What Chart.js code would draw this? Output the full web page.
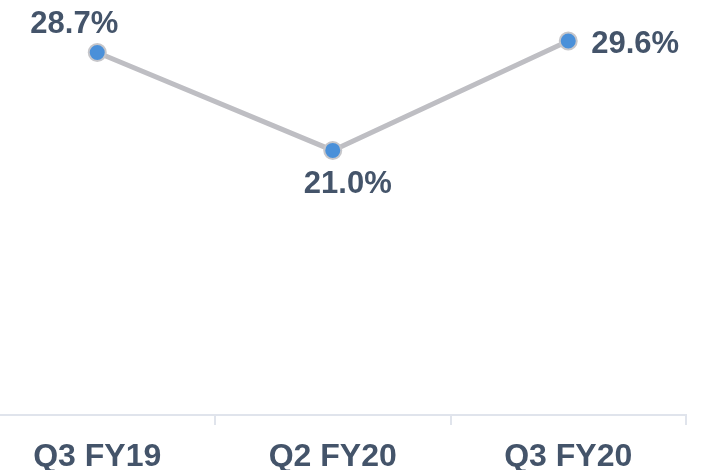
<!DOCTYPE html>
<html>
<head>
<meta charset="utf-8">
<script src="https://cdn.jsdelivr.net/npm/chart.js@4"></script>
<style>
  html, body { margin: 0; padding: 0; background: #fff; }
  /* the first category starts off the left edge and the labels sit near the bottom,
     so the canvas is a bit bigger than the window and clipped */
  #clip { width: 717px; height: 470px; overflow: hidden; position: relative; }
  #wrap { width: 748px; height: 491px; position: absolute; left: -31px; top: 0; }
</style>
</head>
<body>
<div id="clip"><div id="wrap"><canvas id="c"></canvas></div></div>
<script>
const quarters = ['Q3 FY19', 'Q2 FY20', 'Q3 FY20'];
const margins = [28.7, 21.0, 29.6];
// where each value label sits relative to its point
const labelSpots = ['upleft', 'below', 'right'];

const ink = '#44546a';

const valueLabels = {
  id: 'valueLabels',
  afterDatasetsDraw(chart) {
    const ctx = chart.ctx;
    const meta = chart.getDatasetMeta(0);
    ctx.save();
    ctx.font = 'bold 31px "Liberation Sans", Arial, sans-serif';
    ctx.fillStyle = ink;
    ctx.textBaseline = 'middle';
    meta.data.forEach((pt, i) => {
      const txt = margins[i].toFixed(1) + '%';
      let x = pt.x, y = pt.y;
      ctx.textAlign = 'center';
      if (labelSpots[i] === 'upleft') { x -= 23; y -= 28; }
      else if (labelSpots[i] === 'below') { x += 15; y += 34; }
      else { ctx.textAlign = 'left'; x += 23; y += 3; }
      ctx.fillText(txt, x, y);
    });
    ctx.restore();
  }
};

new Chart(document.getElementById('c'), {
  type: 'line',
  data: {
    labels: quarters,
    datasets: [{
      data: margins,
      borderColor: '#bebec3',
      borderWidth: 5,
      pointRadius: 8.5,
      pointBackgroundColor: '#4a90d9',
      pointBorderColor: '#c6c6ca',
      pointBorderWidth: 2,
      tension: 0
    }]
  },
  options: {
    responsive: true,
    maintainAspectRatio: false,
    animation: false,
    layout: { padding: { left: 0, right: 31, top: 0, bottom: 2 } },
    plugins: { legend: { display: false }, tooltip: { enabled: false } },
    scales: {
      x: {
        offset: true,
        grid: {
          offset: true,
          drawOnChartArea: false,
          drawTicks: true,
          tickLength: 10,
          color: '#e0e4ec',
          lineWidth: 2
        },
        border: { color: '#e0e4ec', width: 2 },
        ticks: {
          color: ink,
          padding: 16,
          font: { family: '"Liberation Sans", Arial, sans-serif', size: 32, weight: 'bold', lineHeight: 1 }
        }
      },
      y: {
        display: false,
        min: 0.2,
        max: 32
      }
    }
  },
  plugins: [valueLabels]
});
</script>
</body>
</html>
